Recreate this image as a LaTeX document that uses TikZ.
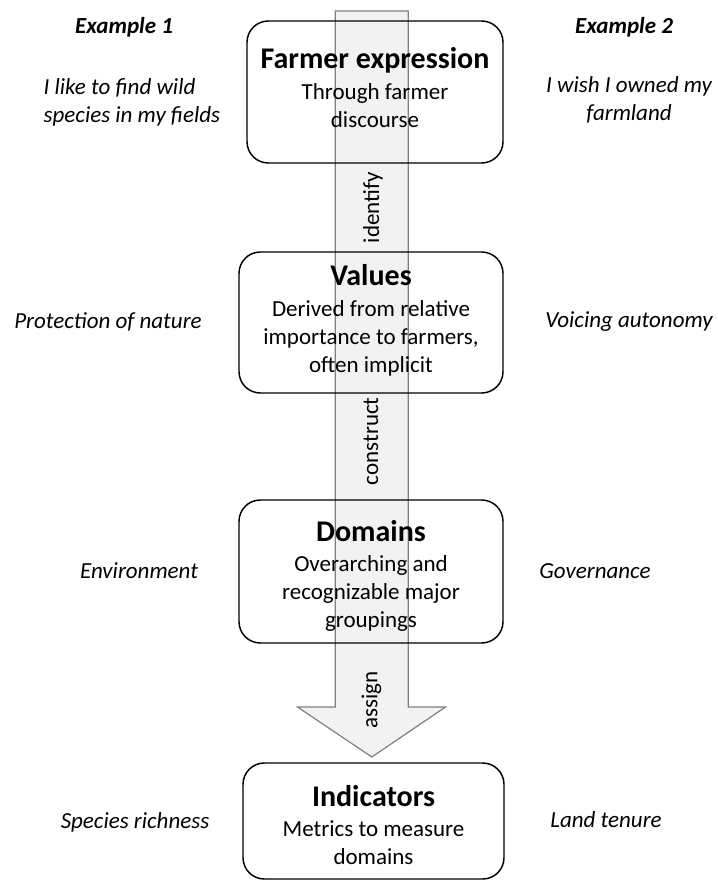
\documentclass[tikz,border=0pt]{standalone}
\usepackage{fontspec}
\setmainfont{Carlito}
\usetikzlibrary{calc}
\newcommand{\boxtitle}[1]{{\fontsize{22.5}{27}\selectfont\bfseries #1}\\[2pt]}

\begin{document}
\begin{tikzpicture}[x=0.75pt,y=-0.75pt,
  every node/.style={font=\fontsize{17.25}{21}\selectfont},
  stagebox/.style={draw=black,line width=1.1pt,rounded corners=16pt,inner sep=0pt},
  stagetext/.style={align=center,inner sep=1pt},
  sidetext/.style={font=\fontsize{17.25}{21}\selectfont\itshape,align=center},
  flowarrow/.style={draw=black!50,line width=0.9pt,fill=black!5},
  flowlabel/.style={rotate=90,inner sep=1pt}]
\useasboundingbox (0,0) rectangle (717,880);
\coordinate (arrowtop) at (371.8,11);
\coordinate (arrowtip) at (371.8,757);
\draw[flowarrow] ($(arrowtop)+(-36.5,0)$) -- ($(arrowtip)+(-36.5,-50)$) -- ($(arrowtip)+(-74.3,-50)$) -- (arrowtip)
  -- ($(arrowtip)+(73.7,-50)$) -- ($(arrowtip)+(36.5,-50)$) -- ($(arrowtop)+(36.5,0)$) -- cycle;

\node[stagebox,minimum width=192pt,minimum height=106.5pt] (farmer) at (375,92) {};
\node[stagebox,minimum width=198pt,minimum height=105.75pt] (values) at (371,322.5) {};
\node[stagebox,minimum width=198pt,minimum height=107.25pt] (domains) at (371,571.5) {};
\node[stagebox,minimum width=195.75pt,minimum height=87pt] (indicators) at (373.5,821) {};

\node[stagetext] (farmertext) at ($(farmer)+(0,-4.5)$) {\boxtitle{Farmer expression}Through farmer\\discourse};
\node[stagetext] (valuestext) at ($(values)+(0,-2)$) {\boxtitle{Values}Derived from relative\\importance to farmers,\\often implicit};
\node[stagetext] (domainstext) at ($(domains)+(0,4.5)$) {\boxtitle{Domains}Overarching and\\recognizable major\\groupings};
\node[stagetext] (indicatorstext) at ($(indicators)+(0,4)$) {\boxtitle{Indicators}Metrics to measure\\domains};

\node[flowlabel] (identify) at ($(farmer.south)!0.5!(values.north)$) {identify};
\node[flowlabel] (construct) at ($(values.south)!0.45!(domains.north)$) {construct};
\node[flowlabel] (assign) at ($(domains.south)!0.5!(arrowtip)$) {assign};

\node[sidetext] (exonehead) at (124,27) {\textbf{Example 1}};
\node[sidetext] (extwohead) at (624,27) {\textbf{Example 2}};
\node[sidetext,align=left,anchor=west] (exonefarmer) at (39,102) {I like to find wild\\species in my fields};
\node[sidetext] (extwofarmer) at (629,100) {I wish I owned my\\farmland};
\node[sidetext] (exonevalue) at (108,322) {Protection of nature};
\node[sidetext] (extwovalue) at (629,322) {Voicing autonomy};
\node[sidetext] (exonedomain) at (139,571) {Environment};
\node[sidetext] (extwodomain) at (595,571) {Governance};
\node[sidetext] (exoneindicator) at (135,822) {Species richness};
\node[sidetext] (extwoindicator) at (606,820) {Land tenure};
\end{tikzpicture}
\end{document}
